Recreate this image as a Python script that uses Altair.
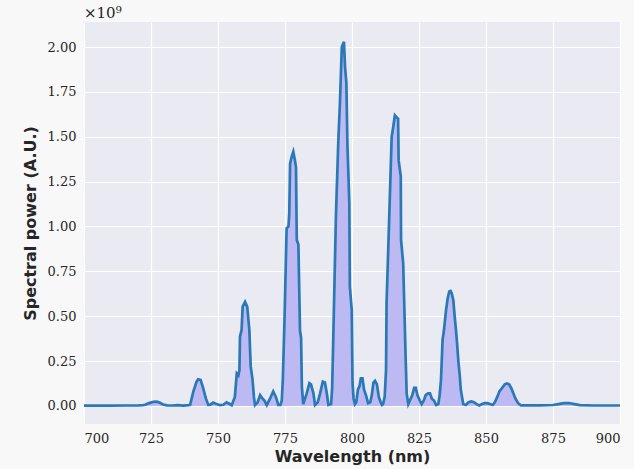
import altair as alt
import pandas as pd

wavelength = [700, 705, 710, 715, 720, 722, 722.8, 724, 725.5, 726.5, 727.5, 728.5, 729.5, 731, 733, 735, 737, 739, 739.6,
              740.8, 741.4, 742.0, 742.6, 743.5, 744.3, 744.8, 745.5, 746.4, 747.3, 748.2, 749.2, 750.7, 752.0, 753.2,
              754.2, 755.1, 756.3, 757.0, 757.6, 758.0, 758.2, 758.8, 759.2, 760.1, 760.9, 761.7, 762.2, 762.9, 763.4,
              763.8, 764.8, 765.7, 766.4, 767.3, 768.2, 769.4, 770.6, 771.6, 772.5, 773.3, 773.8, 774.2, 774.85, 775.6,
              776.3, 776.6, 776.9, 777.5, 778.1, 778.7, 779.1, 779.4, 780.0, 780.6, 781.0, 781.3, 781.8, 783.1, 784.1,
              784.7, 785.6, 786.2, 787.2, 788.1, 789.1, 789.9, 790.6, 791.2, 792.2, 792.6, 793.0, 794.0, 794.9, 795.5,
              796.2, 797.0, 797.4, 797.9, 798.3, 799.0, 799.2, 799.9, 800.2, 800.6, 801.1, 801.6, 802.2, 802.8, 803.3,
              803.9, 804.5, 805.2, 806.0, 806.8, 807.4, 808.0, 808.6, 809.3, 810.0, 810.7, 811.2, 811.6, 812.2, 812.7,
              812.9, 813.9, 814.8, 815.4, 816.0, 816.6, 817.2, 817.4, 818.2, 818.3, 819.1, 820.0, 820.4, 821.0, 821.6,
              822.5, 823.2, 823.8, 824.4, 825.3, 826.0, 826.8, 827.5, 828.4, 829.1, 829.8, 830.6, 831.4, 832.2, 832.7,
              833.2, 833.8, 834.3, 835.1, 835.7, 836.3, 836.8, 837.2, 837.8, 838.3, 838.8, 839.2, 839.7, 840.2, 840.6,
              841.5, 842.5, 843.5, 844.5, 845.5, 846.5, 847.5, 848.5, 849.5, 850.5, 851.5, 852.5, 853.3, 854.2, 855.0,
              856.0, 857.0, 857.8, 858.6, 859.4, 860.2, 861.0, 862.0, 863.0, 866, 870, 875, 877, 879, 881, 883, 885,
              890, 895, 900]
power = [0.001, 0.001, 0.001, 0.002, 0.002, 0.004, 0.006, 0.014, 0.021, 0.024, 0.022, 0.016, 0.008, 0.003, 0.002,
         0.004, 0.002, 0.004, 0.006,
         0.08, 0.107, 0.135, 0.148, 0.145, 0.107, 0.08, 0.04, 0.005, 0.008, 0.018, 0.012, 0.004, 0.006, 0.02,
         0.012, 0.004, 0.05, 0.18, 0.17, 0.2, 0.386, 0.423, 0.553, 0.58, 0.553, 0.423, 0.22, 0.145, 0.05,
         0.005, 0.02, 0.06, 0.045, 0.03, 0.005, 0.04, 0.08, 0.05, 0.005, 0.005, 0.03, 0.15, 0.5, 0.99,
         1.0, 1.075, 1.35, 1.39, 1.417, 1.37, 1.33, 0.925, 0.9, 0.42, 0.38, 0.107, 0.01, 0.07, 0.126,
         0.12, 0.07, 0.005, 0.02, 0.07, 0.135, 0.13, 0.07, 0.005, 0.01, 0.1, 0.368, 1.055, 1.48, 1.69,
         2.0, 2.03, 1.89, 1.80, 1.45, 1.13, 0.665, 0.535, 0.128, 0.04, 0.01, 0.02, 0.09, 0.11, 0.154,
         0.154, 0.09, 0.06, 0.015, 0.02, 0.06, 0.13, 0.14, 0.12, 0.05, 0.02, 0.005, 0.01, 0.05, 0.2,
         0.573, 1.055, 1.5, 1.556, 1.62, 1.61, 1.60, 1.37, 1.28, 0.925, 0.795, 0.275, 0.07, 0.01, 0.03,
         0.06, 0.1, 0.1, 0.06, 0.03, 0.01, 0.03, 0.06, 0.07, 0.07, 0.04, 0.03, 0.005, 0.01, 0.06,
         0.145, 0.368, 0.42, 0.535, 0.6, 0.637, 0.64, 0.628, 0.59, 0.5, 0.423, 0.35, 0.247, 0.17, 0.09,
         0.01, 0.005, 0.02, 0.025, 0.02, 0.01, 0.002, 0.01, 0.015, 0.015, 0.01, 0.005, 0.02, 0.05, 0.08,
         0.1, 0.12, 0.125, 0.12, 0.1, 0.07, 0.04, 0.015, 0.003, 0.003, 0.003, 0.005, 0.01, 0.015, 0.016, 0.01, 0.004,
         0.002, 0.002, 0.002]

x_ticks = [700, 725, 750, 775, 800, 825, 850, 875, 900]
y_ticks = [0.0, 0.25, 0.5, 0.75, 1.0, 1.25, 1.5, 1.75, 2.0]

df = pd.DataFrame({"wl": wavelength, "p": power})

serif = "DejaVu Serif"
sans = "DejaVu Sans"
ink = "#262626"

x_enc = alt.X("wl:Q", scale=alt.Scale(domain=[700, 900], nice=False, zero=False),
              axis=alt.Axis(values=x_ticks, title="Wavelength (nm)", format="d",
                            labelFont=serif, labelFontSize=13, labelColor=ink, labelPadding=8,
                            titleFont=sans, titleFontSize=16, titleFontWeight="bold", titleColor=ink,
                            titlePadding=3, grid=True, gridColor="white", gridWidth=1.2,
                            domain=False, ticks=False))
y_enc = alt.Y("p:Q", scale=alt.Scale(domain=[-0.101, 2.14], nice=False, zero=False),
              axis=alt.Axis(values=y_ticks, title="Spectral power (A.U.)", format=".2f",
                            labelFont=serif, labelFontSize=13, labelColor=ink, labelPadding=8,
                            titleFont=sans, titleFontSize=16, titleFontWeight="bold", titleColor=ink,
                            titlePadding=9, grid=True, gridColor="white", gridWidth=1.2,
                            domain=False, ticks=False))

area = alt.Chart(df).mark_area(color="#bdb9f3", opacity=1).encode(
    x=x_enc, y=y_enc, y2=alt.datum(0)
)
line = alt.Chart(df).mark_line(color="#2a78b5", strokeWidth=2.7, strokeJoin="miter").encode(
    x="wl:Q", y="p:Q"
)
exp_label = alt.Chart(pd.DataFrame({"t": ["×10⁹"]})).mark_text(
    font=serif, fontSize=15, align="left", baseline="middle", color=ink
).encode(text="t:N", x=alt.value(0), y=alt.value(-9))

chart = alt.layer(area, line, exp_label).properties(
    width=536, height=402,
    autosize=alt.AutoSizeParams(type="none"),
    padding={"left": 84, "top": 22, "right": 14, "bottom": 45},
    background="#f8f8f8",
).configure_view(
    fill="#EAEAF2", stroke=None
)

chart.save("out.html", embed_options={"renderer": "svg", "actions": False})
